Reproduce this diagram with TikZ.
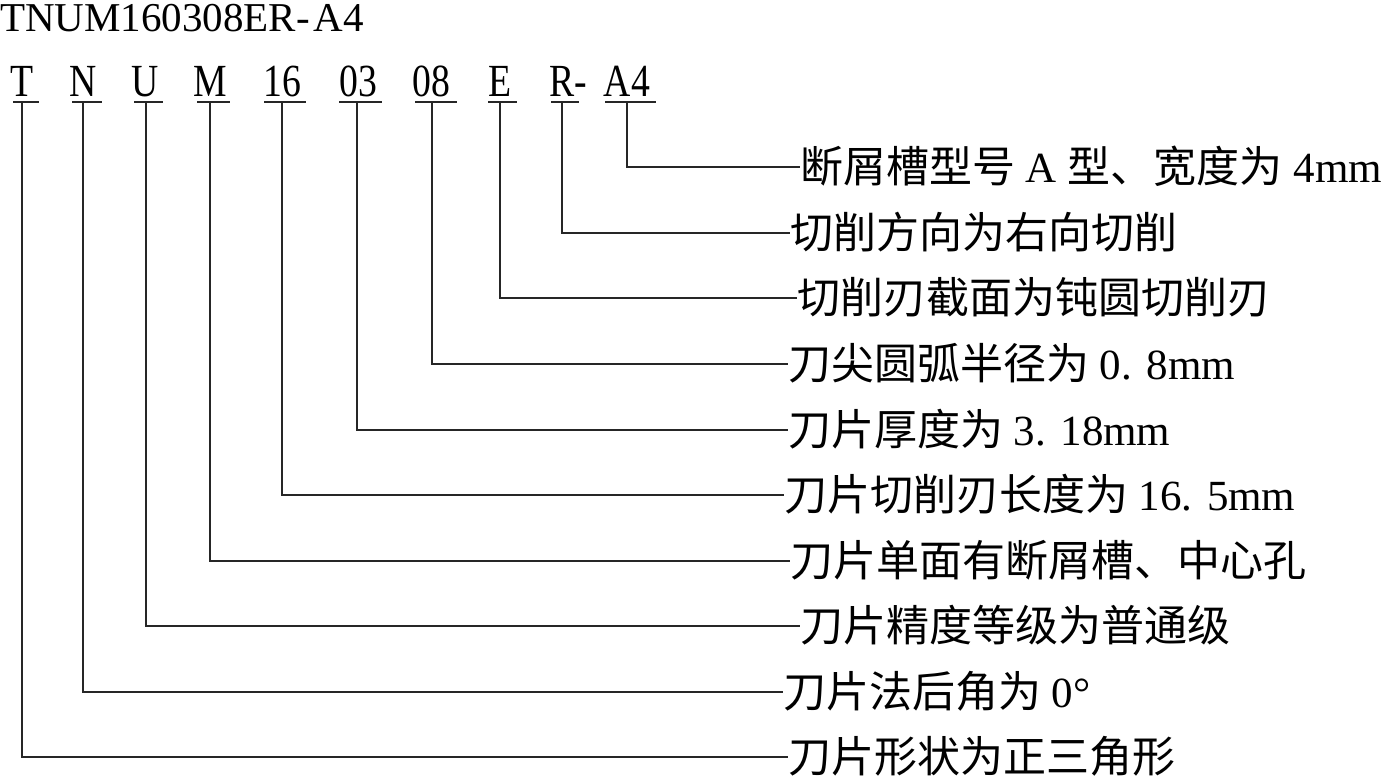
\documentclass[tikz,border=0pt]{standalone}
\usepackage{fontspec}
\setmainfont{Liberation Serif}
\newfontfamily\cjk{Noto Sans CJK SC}
\newfontfamily\cond[FakeStretch=0.82]{Liberation Serif}
\begin{document}
\begin{tikzpicture}[x=1pt,y=-1pt,
  lead/.style={line width=1.5pt,draw=black!85},
  code/.style={anchor=base,inner sep=0pt,font=\cond\fontsize{46}{46}\selectfont},
  desc/.style={anchor=west,inner sep=0pt,text height=36pt,text depth=6pt,font=\fontsize{43}{43}\selectfont}]
\useasboundingbox (0,0) rectangle (1384,776);
\node[anchor=base west,inner sep=0pt,font=\fontsize{41}{41}\selectfont] (title) at (0,32) {TNUM160308ER-\kern4pt A4};
% code letters
\node[code] (cT) at (22,96) {T};
\node[code] (cN) at (83,96) {N};
\node[code] (cU) at (145,96) {U};
\node[code] (cM) at (210,96) {M};
\node[code] (c16) at (282,96) {16};
\node[code] (c03) at (358,96) {03};
\node[code] (c08) at (431,96) {08};
\node[code] (cE) at (500,96) {E};
\node[code] (cR) at (568,96) {R-};
\node[code] (cA) at (627,96) {A4};
% underlines
\draw[lead] (13,102) -- (39,102);
\draw[lead] (72,102) -- (102,102);
\draw[lead] (134,102) -- (163,102);
\draw[lead] (197,102) -- (230,102);
\draw[lead] (264,102) -- (306,102);
\draw[lead] (339,102) -- (382,102);
\draw[lead] (415,102) -- (457,102);
\draw[lead] (488,102) -- (517,102);
\draw[lead] (551,102) -- (579,102);
\draw[lead] (605,102) -- (656,102);
\coordinate (uT) at (22,102);
\coordinate (uN) at (83,102);
\coordinate (uU) at (146,102);
\coordinate (uM) at (210,102);
\coordinate (u16) at (282,102);
\coordinate (u03) at (357,102);
\coordinate (u08) at (432,102);
\coordinate (uE) at (500,102);
\coordinate (uR) at (562,102);
\coordinate (uA) at (627,102);
% descriptions
\node[desc] (dA) at (800,167) {{\cjk 断屑槽型号} A {\cjk 型、宽度为} 4mm};
\node[desc] (dR) at (790,233) {\cjk 切削方向为右向切削};
\node[desc] (dE) at (797,298) {\cjk 切削刃截面为钝圆切削刃};
\node[desc] (d08) at (788,364) {{\cjk 刀尖圆弧半径为} 0. 8mm};
\node[desc] (d03) at (788,430) {{\cjk 刀片厚度为} 3. 18mm};
\node[desc] (d16) at (784,495) {{\cjk 刀片切削刃长度为} 16. 5mm};
\node[desc] (dM) at (790,561) {\cjk 刀片单面有断屑槽、中心孔};
\node[desc] (dU) at (800,626) {\cjk 刀片精度等级为普通级};
\node[desc] (dN) at (783,692) {{\cjk 刀片法后角为} 0°};
\node[desc] (dT) at (788,757) {\cjk 刀片形状为正三角形};
% leaders
\draw[lead] (uA) |- (dA.west);
\draw[lead] (uR) |- (dR.west);
\draw[lead] (uE) |- (dE.west);
\draw[lead] (u08) |- (d08.west);
\draw[lead] (u03) |- (d03.west);
\draw[lead] (u16) |- (d16.west);
\draw[lead] (uM) |- (dM.west);
\draw[lead] (uU) |- (dU.west);
\draw[lead] (uN) |- (dN.west);
\draw[lead] (uT) |- (dT.west);
\end{tikzpicture}
\end{document}
